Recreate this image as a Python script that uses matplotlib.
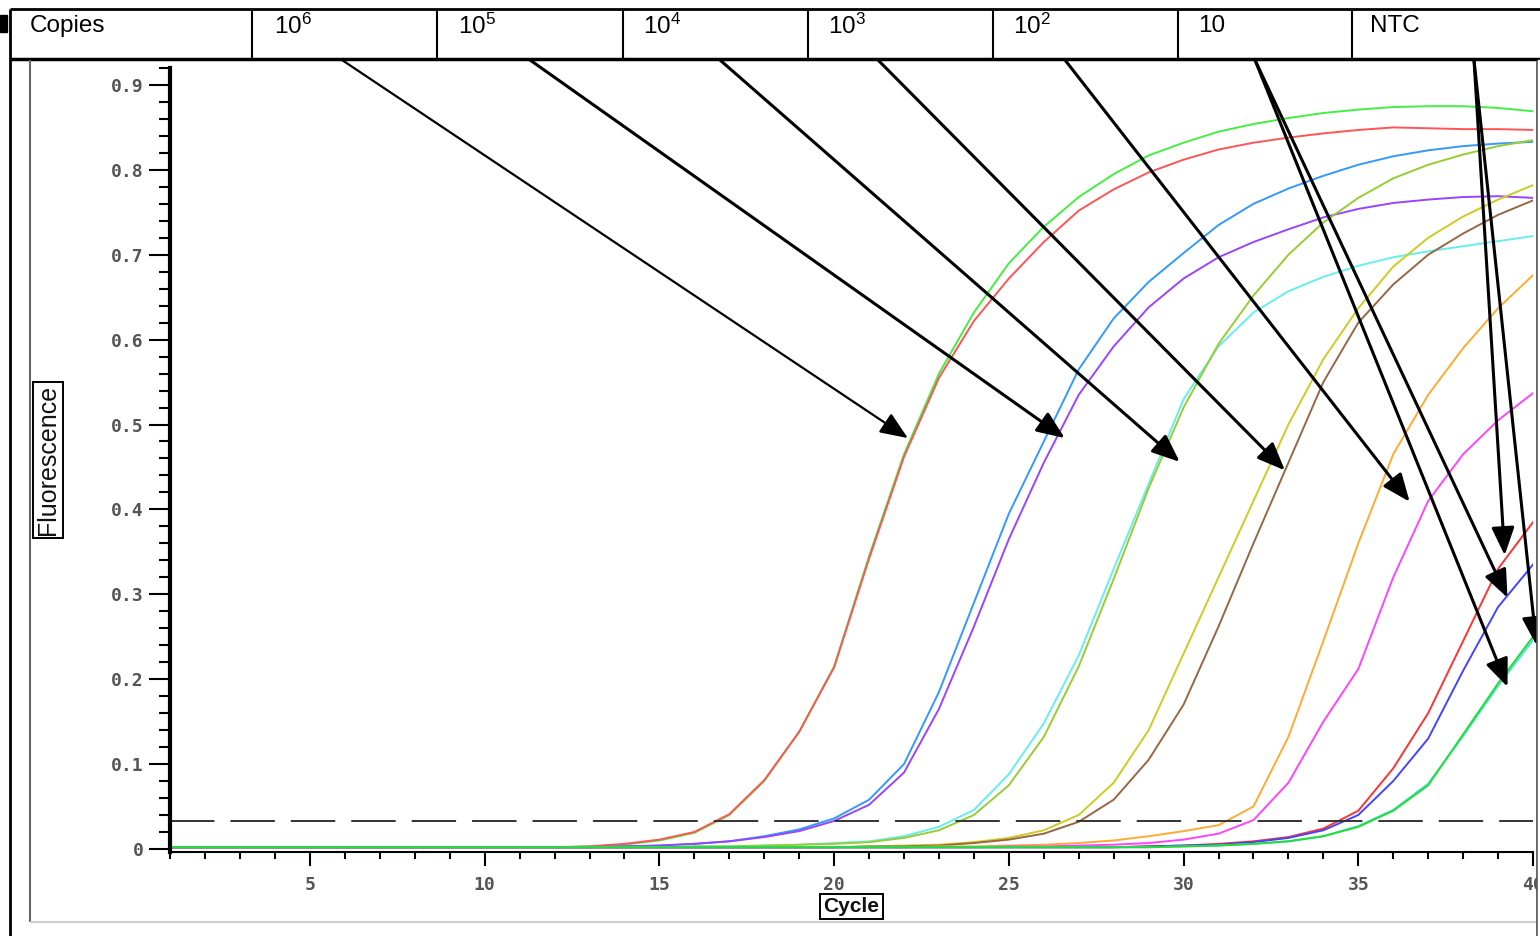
import matplotlib
matplotlib.use("Agg")
import matplotlib.pyplot as plt
from matplotlib.lines import Line2D
from matplotlib.patches import Rectangle

plt.rcParams['mathtext.fontset'] = 'custom'
plt.rcParams['mathtext.rm'] = 'Liberation Sans'
plt.rcParams['lines.scale_dashes'] = False

# qPCR amplification data (fluorescence per cycle)
cycles = list(range(1, 41))

# 10^6 copies
g6 = [0.002] * 12 + [0.003, 0.005, 0.010, 0.019, 0.040, 0.080, 0.138, 0.215, 0.345, 0.465,
                     0.560, 0.632, 0.690, 0.733, 0.768, 0.795, 0.817, 0.832, 0.845, 0.854,
                     0.861, 0.867, 0.871, 0.874, 0.875, 0.875, 0.873, 0.869]
r6 = [0.002] * 12 + [0.003, 0.006, 0.011, 0.020, 0.041, 0.081, 0.138, 0.214, 0.342, 0.462,
                     0.555, 0.622, 0.672, 0.715, 0.752, 0.777, 0.797, 0.812, 0.824, 0.832,
                     0.838, 0.843, 0.847, 0.850, 0.849, 0.848, 0.848, 0.847]
# 10^5 copies
b5 = [0.002] * 13 + [0.003, 0.004, 0.006, 0.009, 0.015, 0.023, 0.036, 0.058, 0.100, 0.185,
                     0.290, 0.395, 0.480, 0.565, 0.625, 0.668, 0.702, 0.735, 0.760, 0.778,
                     0.793, 0.806, 0.816, 0.823, 0.828, 0.831, 0.833]
p5 = [0.002] * 13 + [0.003, 0.004, 0.006, 0.009, 0.014, 0.021, 0.033, 0.052, 0.090, 0.165,
                     0.262, 0.365, 0.455, 0.535, 0.592, 0.638, 0.672, 0.697, 0.715, 0.730,
                     0.744, 0.754, 0.761, 0.765, 0.768, 0.769, 0.767]
# 10^4 copies
o4 = [0.002] * 15 + [0.003, 0.003, 0.004, 0.005, 0.006, 0.008, 0.013, 0.022, 0.040, 0.075,
                     0.132, 0.215, 0.318, 0.425, 0.520, 0.595, 0.652, 0.700, 0.738, 0.767,
                     0.790, 0.806, 0.818, 0.828, 0.835]
c4 = [0.002] * 15 + [0.003, 0.003, 0.004, 0.005, 0.007, 0.009, 0.015, 0.026, 0.046, 0.088,
                     0.148, 0.228, 0.330, 0.430, 0.530, 0.592, 0.632, 0.657, 0.674, 0.687,
                     0.697, 0.704, 0.710, 0.716, 0.722]
# 10^3 copies
y3 = [0.002] * 20 + [0.003, 0.004, 0.005, 0.008, 0.013, 0.022, 0.040, 0.078, 0.140, 0.230,
                     0.320, 0.410, 0.500, 0.577, 0.637, 0.686, 0.720, 0.745, 0.765, 0.782]
br3 = [0.002] * 20 + [0.003, 0.003, 0.004, 0.007, 0.011, 0.018, 0.032, 0.058, 0.105, 0.170,
                      0.262, 0.360, 0.455, 0.550, 0.620, 0.665, 0.700, 0.725, 0.747, 0.764]
# 10^2 copies
or2 = [0.002] * 22 + [0.003, 0.003, 0.004, 0.005, 0.007, 0.010, 0.015, 0.021, 0.028, 0.050,
                      0.132, 0.245, 0.360, 0.465, 0.535, 0.590, 0.637, 0.676]
m2 = [0.002] * 24 + [0.003, 0.003, 0.004, 0.005, 0.007, 0.011, 0.018, 0.034, 0.078, 0.150,
                     0.212, 0.320, 0.410, 0.465, 0.505, 0.537]
# 10 copies / NTC wells
r1 = [0.002] * 28 + [0.003, 0.004, 0.006, 0.009, 0.014, 0.024, 0.045, 0.095, 0.160, 0.245,
                     0.330, 0.385]
b1 = [0.002] * 28 + [0.003, 0.004, 0.005, 0.008, 0.013, 0.022, 0.040, 0.080, 0.130, 0.210,
                     0.285, 0.335]
g1 = [0.002] * 29 + [0.003, 0.004, 0.006, 0.009, 0.015, 0.026, 0.045, 0.075, 0.135, 0.195,
                     0.250]
t1 = [0.002] * 29 + [0.003, 0.004, 0.006, 0.009, 0.015, 0.027, 0.046, 0.077, 0.133, 0.192,
                     0.246]

series = [(g6, '#44ee44'), (r6, '#ff5555'), (b5, '#3399ff'), (p5, '#9944ff'),
          (c4, '#66eeee'), (o4, '#99cc33'), (y3, '#cccc22'), (br3, '#996644'),
          (or2, '#ffaa33'), (m2, '#ff44ff'), (r1, '#ff3333'), (b1, '#4444ff'),
          (t1, '#55dddd'), (g1, '#22dd33')]

threshold = 0.033

header = ['Copies', r'$\mathregular{10^{6}}$', r'$\mathregular{10^{5}}$', r'$\mathregular{10^{4}}$',
          r'$\mathregular{10^{3}}$', r'$\mathregular{10^{2}}$', '10', 'NTC']

# arrow targets (cycle, fluorescence) for each header group
arrow_cols = [1, 2, 3, 4, 5, 6, 6, 7, 7]
arrow_cycle = [22.11, 26.60, 29.89, 32.90, 36.47, 39.27, 39.27, 39.19, 40.10]
arrow_fluor = [0.484, 0.484, 0.456, 0.446, 0.409, 0.191, 0.296, 0.346, 0.240]

x_major = [5, 10, 15, 20, 25, 30, 35, 40]
y_major = [0, 0.1, 0.2, 0.3, 0.4, 0.5, 0.6, 0.7, 0.8, 0.9]
y_labels = ['0', '0.1', '0.2', '0.3', '0.4', '0.5', '0.6', '0.7', '0.8', '0.9']

W, H = 1540, 936
fig = plt.figure(figsize=(W / 100, H / 100), dpi=100)


def fx(px):
    return px / W


def fy(py):
    return 1 - py / H


def fline(x0, y0, x1, y1, lw=2, color='black'):
    fig.add_artist(Line2D([fx(x0), fx(x1)], [fy(y0), fy(y1)], transform=fig.transFigure,
                          color=color, lw=lw, solid_capstyle='butt'))


# table on top
fline(10, 9, 1540, 9, lw=2)
fline(10, 58.5, 1540, 58.5, lw=2.5)
fline(10, 9, 10, 936, lw=2)
col_x = [10, 252, 437, 623, 808, 993, 1178, 1352]
for x in col_x[1:]:
    fline(x, 9, x, 58, lw=1.5)
fig.add_artist(Rectangle((0, fy(32)), fx(7), fy(15) - fy(32), transform=fig.transFigure,
                         color='black'))
text_x = [30, 274, 458, 643, 828, 1013, 1198, 1370]
for tx, s in zip(text_x, header):
    fig.text(fx(tx), fy(26), s, ha='left', va='center', fontsize=17.5,
             family='Liberation Sans')

# frame of the instrument screenshot
fline(30, 60, 30, 922, lw=1.5, color='#666666')
fline(30, 922, 1537, 922, lw=1.5, color='#cccccc')
fline(1537, 60, 1537, 936, lw=2, color='#555555')

ax = fig.add_axes([fx(170.2), fy(851.5), (1533 - 170.2) / W, (851.5 - 68) / H])
for vals, col in series:
    ax.plot(cycles, vals, color=col, lw=1.4)
ax.axhline(threshold, color='#333333', lw=1.4, dashes=(32, 11.5))

ax.set_xlim(1, 40)
ax.set_ylim(-0.003, 0.92)
ax.set_xticks(x_major)
ax.set_xticks(cycles, minor=True)
ax.set_yticks(y_major)
ax.set_yticklabels(y_labels)
ax.set_yticks([i * 0.02 for i in range(47)], minor=True)
for s in ['top', 'right']:
    ax.spines[s].set_visible(False)
ax.spines['left'].set_linewidth(3)
ax.spines['bottom'].set_linewidth(1.5)
ax.tick_params(axis='x', which='major', length=10, width=1.5, pad=8, labelsize=13,
               labelcolor='#555555')
ax.tick_params(axis='x', which='minor', length=5, width=1.5)
ax.tick_params(axis='y', which='major', length=15, width=1.5, pad=4, labelsize=13,
               labelcolor='#555555')
ax.tick_params(axis='y', which='minor', length=8, width=1.5)
for lab in ax.get_xticklabels() + ax.get_yticklabels():
    lab.set_family('DejaVu Sans Mono')
    lab.set_fontweight('bold')

ax.set_ylabel('Fluorescence', fontsize=18, family='Liberation Sans', color='#111111',
              bbox=dict(boxstyle='square,pad=0.12', fc='white', ec='black', lw=1.4))
ax.yaxis.set_label_coords(-0.081, 0.5)
ax.set_xlabel('Cycle', fontsize=15, fontweight='bold', family='Liberation Sans',
              va='center', color='#111111',
              bbox=dict(boxstyle='square,pad=0.15', fc='white', ec='black', lw=1.4))
ax.xaxis.set_label_coords(0.5, -0.07)

# arrows from header cells to the curves
start_x = {1: 342, 2: 530, 3: 720, 4: 878, 5: 1065, 6: 1255, 7: 1474}
for i, (col, cx, cy) in enumerate(zip(arrow_cols, arrow_cycle, arrow_fluor)):
    ax.annotate('', xy=(cx, cy), xycoords='data',
                xytext=(start_x[col], H - 60), textcoords='figure pixels',
                annotation_clip=False,
                arrowprops=dict(arrowstyle='-|>,head_length=0.85,head_width=0.35',
                                lw=1.6 if i == 0 else 2.2, color='black',
                                mutation_scale=20, shrinkA=0, shrinkB=0))

fig.add_artist(Rectangle((fx(1538), 0), fx(2), fy(60), transform=fig.transFigure,
                         color='white', zorder=5))

fig.savefig('out.png', dpi=100)
